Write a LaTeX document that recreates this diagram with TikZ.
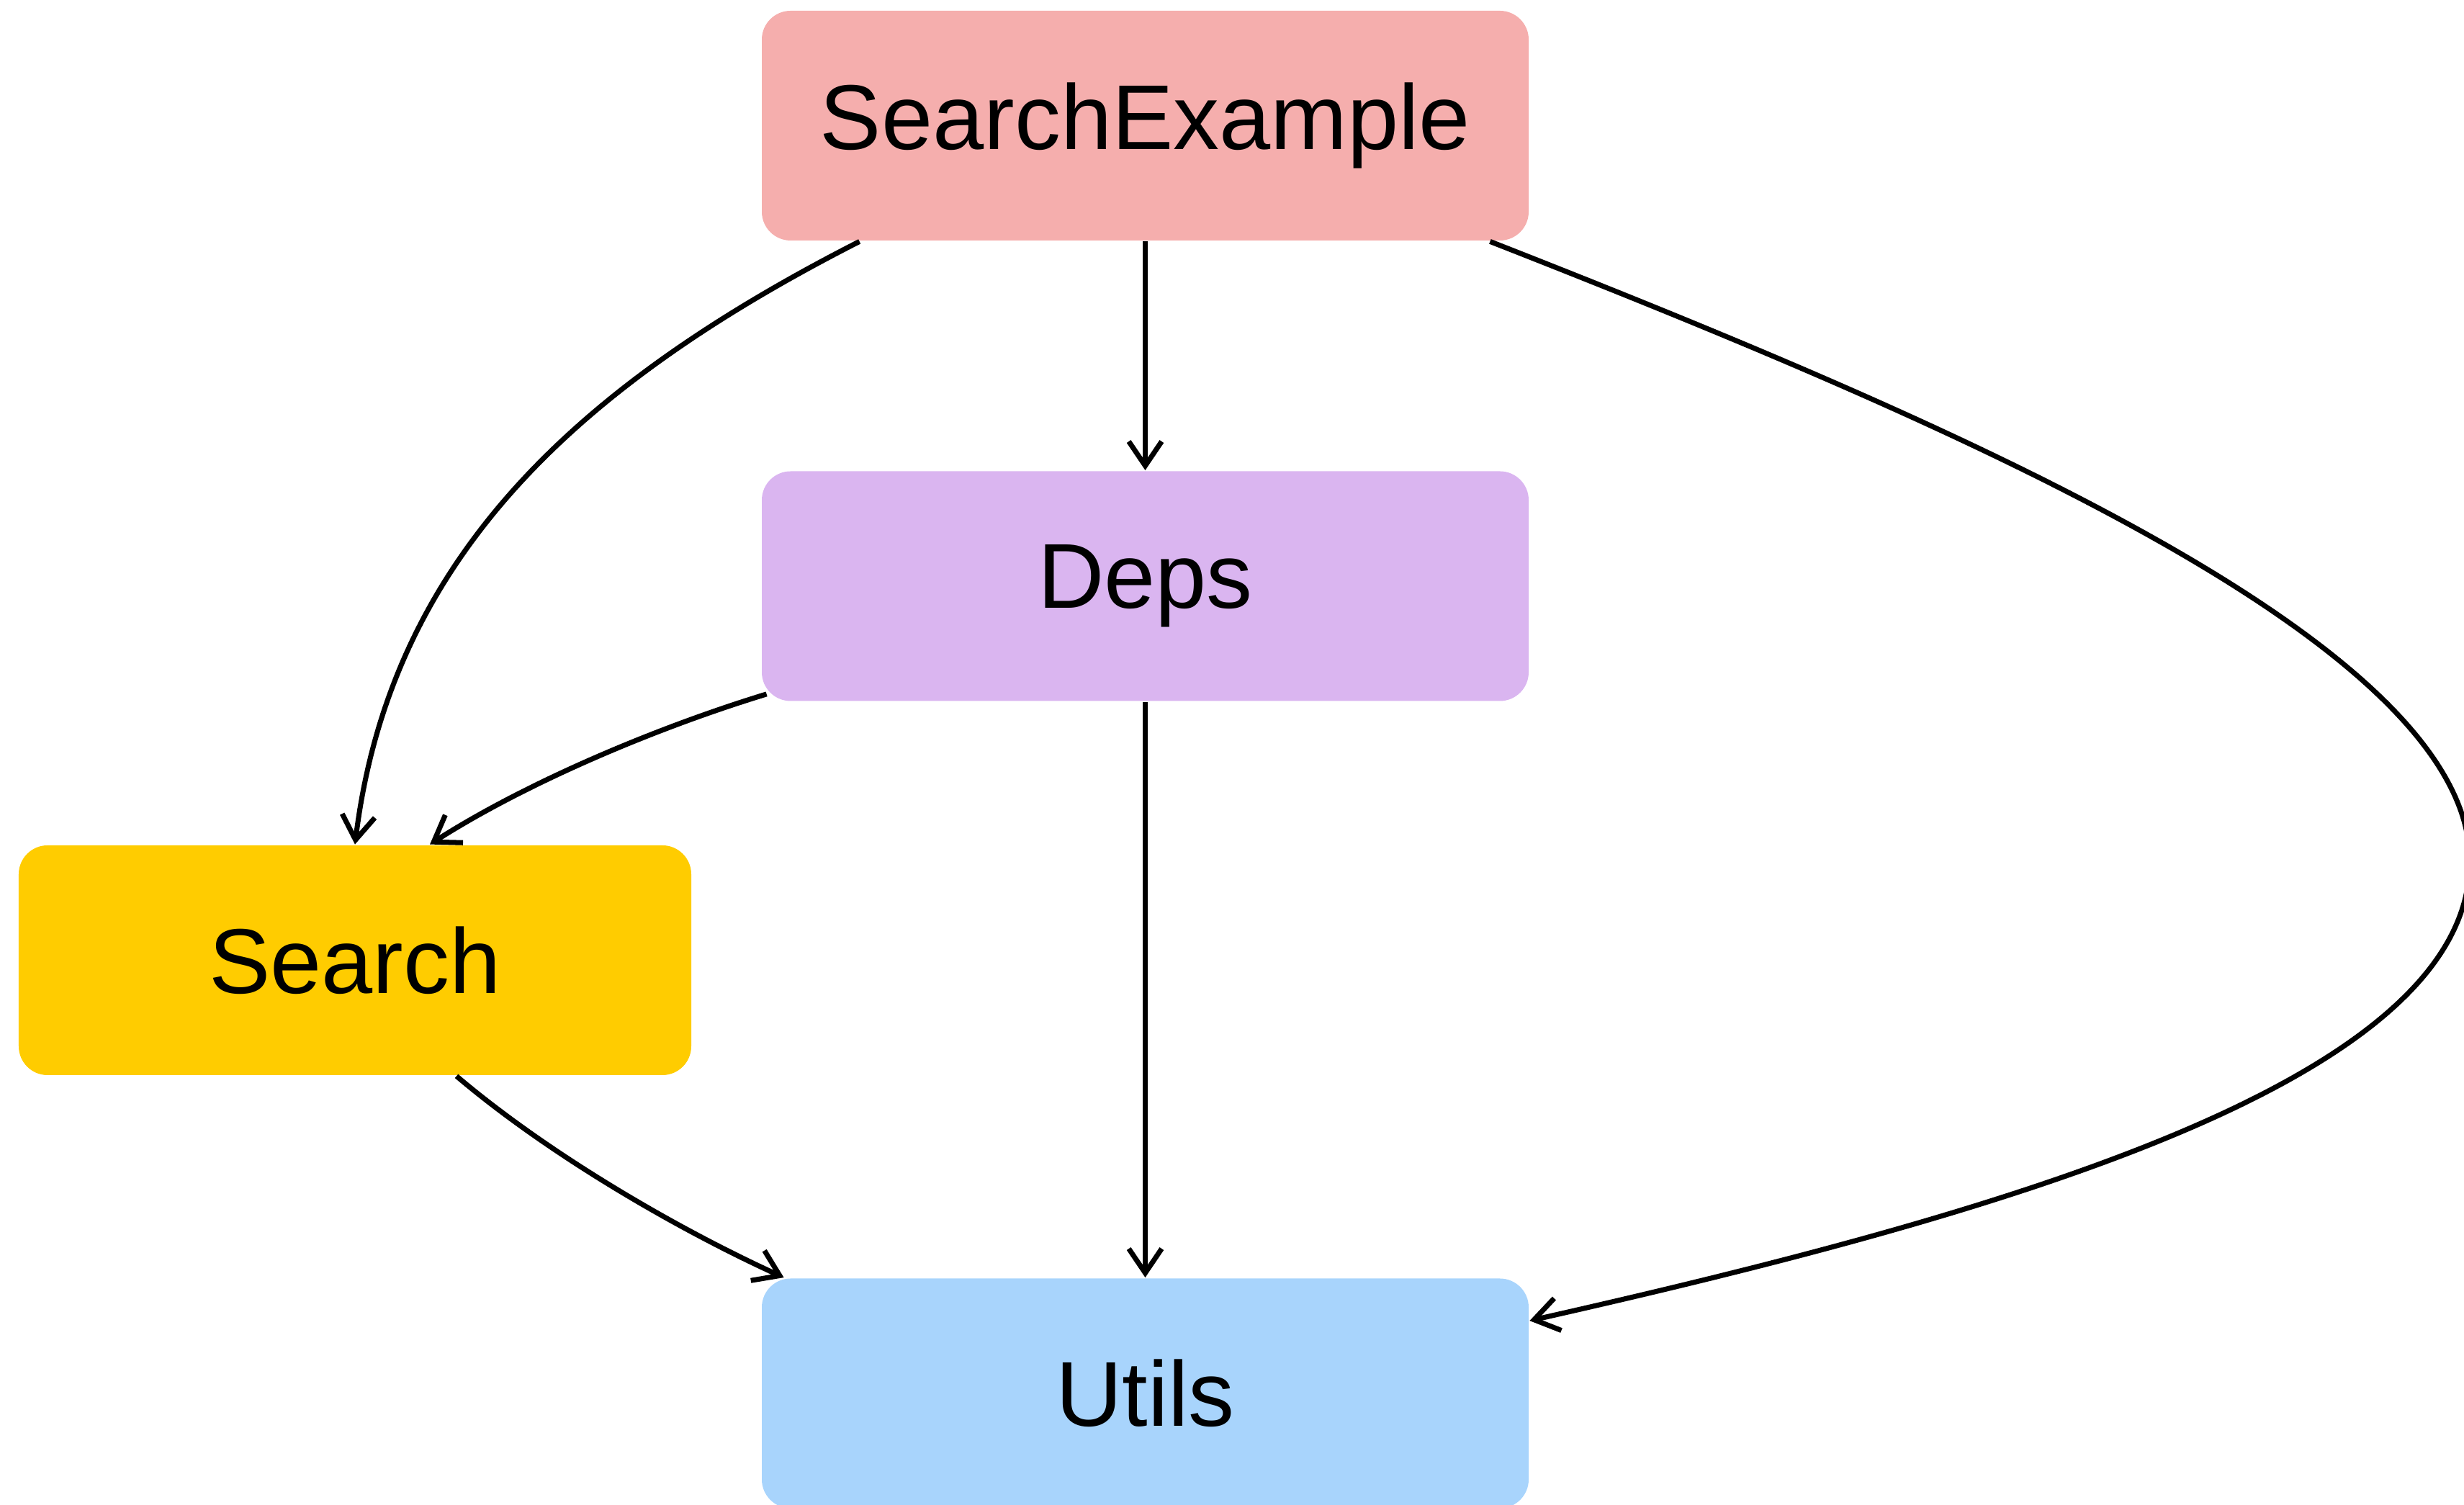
\documentclass[tikz,border=0pt]{standalone}
\usepackage{fontspec}
\setmainfont{Liberation Sans}
\usepackage{tikz}
\usetikzlibrary{positioning,arrows.meta}

\definecolor{cex}{RGB}{245,174,173}
\definecolor{cdeps}{RGB}{218,181,240}
\definecolor{csrch}{RGB}{255,204,0}
\definecolor{cutil}{RGB}{168,212,252}

\begin{document}
\begin{tikzpicture}[
  box/.style={rounded corners=0.2cm, inner sep=0pt, minimum width=5.325cm,
    minimum height=1.595cm, font=\fontsize{18.2}{22}\selectfont},
  edge/.style={line width=1pt, -{Straight Barb[length=4.8pt,width=6.5pt]}},
]
\useasboundingbox (0,0) rectangle (17.11,10.45);
% modules
\node[box, fill=cex] (ex) at (7.9525,9.5775) {SearchExample};
\node[box, fill=cdeps] (deps) at (7.9525,6.38) {Deps};
\node[box, fill=csrch, minimum width=4.67cm] (srch) at (2.465,3.7825) {Search};
\node[box, fill=cutil] (utils) at (7.9525,0.775) {Utils};
\coordinate (bend) at (17.15,4.47);
% imports
\draw[edge] (ex.south) -- (deps.north);
\draw[edge] (deps.south) -- (utils.north);
\draw[edge] ([xshift=0.685cm]ex.south west) .. controls +(207:2.2) and +(83:2) .. (srch.north);
\draw[edge] ([xshift=0.04cm,yshift=0.055cm]deps.south west) .. controls +(197:0.8) and +(32.6:0.8) .. ([xshift=0.52cm]srch.north);
\draw[edge] ([xshift=0.705cm]srch.south) .. controls +(-40.3:0.85) and +(155.5:0.8) .. ([xshift=0.16cm]utils.north west);
\draw[edge] ([xshift=-0.275cm]ex.south east) .. controls +(-21.4:3.5) and +(0,1.5) .. (bend)
  .. controls +(0,-1.5) and +(12.7:3.5) .. ([yshift=-0.3cm]utils.north east);
\end{tikzpicture}
\end{document}
